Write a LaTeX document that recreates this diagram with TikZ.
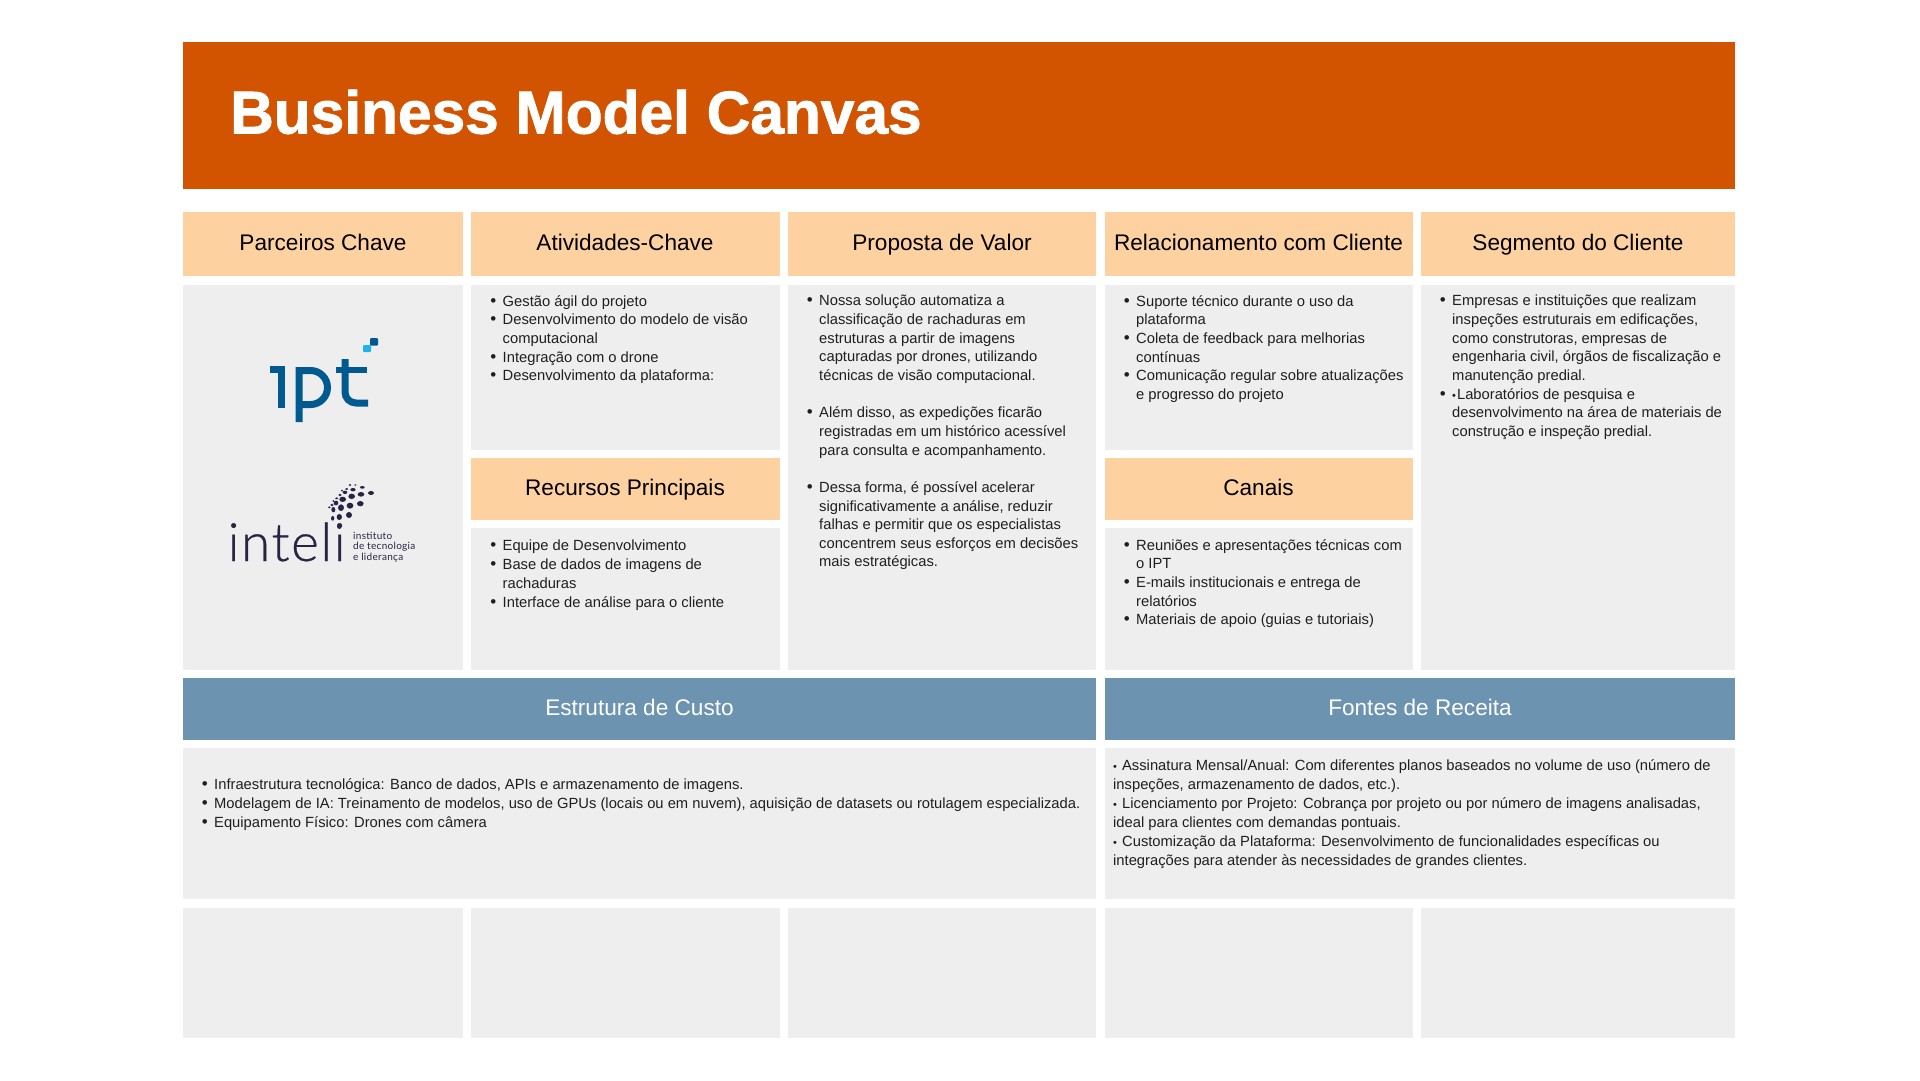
\documentclass[tikz,border=0pt]{standalone}
\usepackage{fontspec}
\setmainfont{Liberation Sans}
\newfontfamily\titlefont[FakeBold=1.5]{Liberation Sans Bold}
\definecolor{orangebar}{HTML}{D35400}
\definecolor{peach}{HTML}{FED1A0}
\definecolor{panel}{HTML}{EEEEEE}
\definecolor{bluebar}{HTML}{6C93B0}
\definecolor{iptblue}{HTML}{005A8F}
\definecolor{iptcyan}{HTML}{1AB4E8}
\definecolor{intelidark}{HTML}{2A2344}
\newcommand{\bu}{\leavevmode\llap{{\fontsize{17}{14}\selectfont\textbullet}\hspace{6.5pt}}}
\newcommand{\sbu}{{\fontsize{11}{11}\selectfont\textbullet}\hspace{1pt}}
\tikzset{
 x=1pt,y=-1pt,
 headtext/.style={font=\fontsize{22.6}{24}\selectfont,text=black,inner sep=0pt,anchor=base},
 bluetext/.style={font=\fontsize{22.6}{24}\selectfont,text=white,inner sep=0pt,anchor=base},
 bodytext/.style={font=\fontsize{14.75}{18.65}\selectfont,text=black!88,inner sep=0pt,anchor=north west,align=left},
 bodyloose/.style={bodytext,font=\fontsize{14.75}{19}\selectfont},
 iptline/.style={draw=iptblue,line width=7pt,line cap=butt},
 dot/.style={fill=intelidark},
}
\begin{document}
\begin{tikzpicture}
\useasboundingbox (0,0) rectangle (1920,1080);
\fill[white] (0,0) rectangle (1920,1080);
\fill[orangebar] (183,42) rectangle (1735,189);
\node[anchor=base west,inner sep=0pt,text=white,font=\titlefont\fontsize{60.4}{64}\selectfont] (title) at (230,133.5) {Business Model Canvas};
% headers
\foreach \a/\b/\c/\d in {183/212/463/276,471/212/779.5/276,788/212/1096/276,1104.5/212/1412.5/276,1421/212/1735/276,471/458/779.5/520,1104.5/458/1412.5/520}
  \fill[peach] (\a,\b) rectangle (\c,\d);
\foreach \a/\b/\c/\d in {183/678/1096/740,1104.5/678/1735/740}
  \fill[bluebar] (\a,\b) rectangle (\c,\d);
\foreach \a/\b/\c/\d in {183/285/463/670,471/285/779.5/450,471/528/779.5/670,788/285/1096/670,1104.5/285/1412.5/450,1104.5/528/1412.5/670,1421/285/1735/670,183/748/1096/899,1104.5/748/1735/899,183/908/463/1038,471/908/779.5/1038,788/908/1096/1038,1104.5/908/1412.5/1038,1421/908/1735/1038}
  \fill[panel] (\a,\b) rectangle (\c,\d);
\node[headtext] (h1) at (323,250.5) {Parceiros Chave};
\node[headtext] (h2) at (625,250.5) {Atividades-Chave};
\node[headtext] (h3) at (942,250.5) {Proposta de Valor};
\node[headtext] (h4) at (1258.5,250.5) {Relacionamento com Cliente};
\node[headtext] (h5) at (1578,250.5) {Segmento do Cliente};
\node[headtext] (h6) at (625,495.5) {Recursos Principais};
\node[headtext] (h7) at (1258.5,495.5) {Canais};
\node[bluetext] (h8) at (639.5,715.5) {Estrutura de Custo};
\node[bluetext] (h9) at (1420,715.5) {Fontes de Receita};
\node[bodytext] (b2) at (502.5,295) {\bu Gestão ágil do projeto\\\bu Desenvolvimento do modelo de visão\\computacional\\\bu Integração com o drone\\\bu Desenvolvimento da plataforma:};
\node[bodytext] (b3) at (819,295) {\bu Nossa solução automatiza a\\classificação de rachaduras em\\estruturas a partir de imagens\\capturadas por drones, utilizando\\técnicas de visão computacional.\\[18.65pt]\bu Além disso, as expedições ficarão\\registradas em um histórico acessível\\para consulta e acompanhamento.\\[18.65pt]\bu Dessa forma, é possível acelerar\\significativamente a análise, reduzir\\falhas e permitir que os especialistas\\concentrem seus esforços em decisões\\mais estratégicas.};
\node[bodytext] (b4) at (1136,295) {\bu Suporte técnico durante o uso da\\plataforma\\\bu Coleta de feedback para melhorias\\contínuas\\\bu Comunicação regular sobre atualizações\\e progresso do projeto};
\node[bodytext] (b5) at (1452,295) {\bu Empresas e instituições que realizam\\inspeções estruturais em edificações,\\como construtoras, empresas de\\engenharia civil, órgãos de fiscalização e\\manutenção predial.\\\bu \sbu Laboratórios de pesquisa e\\desenvolvimento na área de materiais de\\construção e inspeção predial.};
\node[bodyloose] (b6) at (502.5,540) {\bu Equipe de Desenvolvimento\\\bu Base de dados de imagens de\\rachaduras\\\bu Interface de análise para o cliente};
\node[bodytext] (b7) at (1136,539) {\bu Reuniões e apresentações técnicas com\\o IPT\\\bu E-mails institucionais e entrega de\\relatórios\\\bu Materiais de apoio (guias e tutoriais)};
\node[bodyloose] (b8) at (214,778) {\bu Infraestrutura tecnológica: Banco de dados, APIs e armazenamento de imagens.\\\bu Modelagem de IA: Treinamento de modelos, uso de GPUs (locais ou em nuvem), aquisição de datasets ou rotulagem especializada.\\\bu Equipamento Físico: Drones com câmera};
\node[bodyloose] (b9) at (1113,759) {\sbu{} Assinatura Mensal/Anual: Com diferentes planos baseados no volume de uso (número de\\inspeções, armazenamento de dados, etc.).\\\sbu{} Licenciamento por Projeto: Cobrança por projeto ou por número de imagens analisadas,\\ideal para clientes com demandas pontuais.\\\sbu{} Customização da Plataforma: Desenvolvimento de funcionalidades específicas ou\\integrações para atender às necessidades de grandes clientes.};
% ipt logo
\draw[iptline] (270,369.5) -- (285,369.5);
\draw[iptline] (281,367) -- (281,408);
\draw[iptline] (299,422) -- (299,370.5) -- (310.5,370.5) arc[start angle=-90,end angle=90,radius=17] -- (299,404.5);
\draw[iptline] (345,359) -- (345,392) arc[start angle=180,end angle=90,radius=11] -- (368,403);
\draw[iptline,line width=6pt] (336,369.5) -- (367,369.5);
\fill[iptblue,rounded corners=1pt] (370,338) rectangle (378,345.5);
\fill[iptcyan,rounded corners=1pt] (363,345) rectangle (371,352);
% inteli logo
\node[anchor=base west,inner sep=0pt,text=intelidark,font={\fontspec{Lato Light}[LetterSpace=3,FakeBold=0.4]\fontsize{53}{55}\selectfont}] (inteli) at (227.5,561) {inteli};
\node[anchor=north west,inner sep=0pt,align=left,text=intelidark,font={\fontspec{Lato}[LetterSpace=3]\fontsize{10}{10.3}\selectfont}] (inteli2) at (353,532) {instituto\\de tecnologia\\e liderança};
\begin{scope}[shift={(320,475)},x=0.3333pt,y=-0.3333pt]
\foreach \a/\b/\c/\d in {153/54/9/6,123/58/10/7,121/86/10/8,95/64/10/8,90/92/10/9,87/120/9/9,68/73/10/8,63/98/9/10,58/126/8/9,58/154/7/8,48/84/7/7,40/104/6/8,38/130/5/7,127/37/7/4,99/44/8/5,75/52/7/5,106/30/3/2.5,90/30/4/3,80/42/5/3,60/60/5/4,50/70/5/3,36/90/5/4,28/97/4/3,66/47/3/3,40/78/3/3}
  \fill[dot] (\a,\b) ellipse[x radius=\c,y radius=\d];
\end{scope}
\end{tikzpicture}
\end{document}
